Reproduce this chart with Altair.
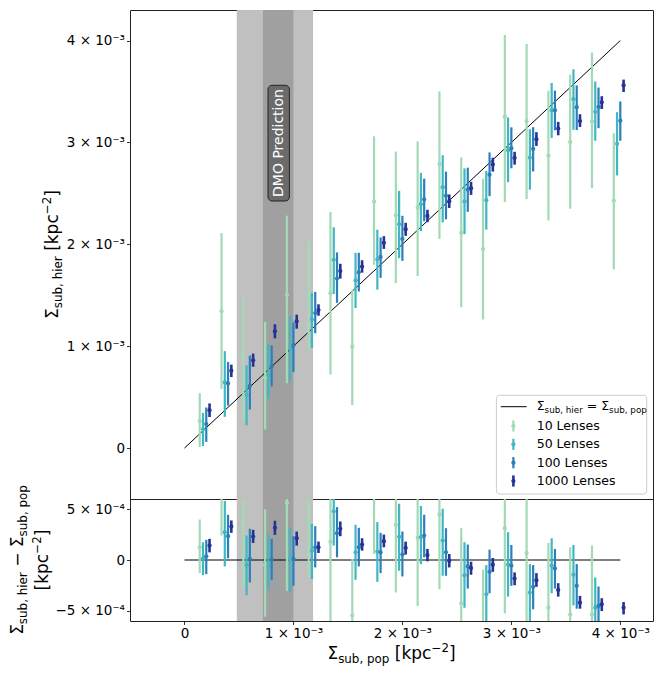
import altair as alt
import pandas as pd

# ---------------- data (units of 1e-3 kpc^-2) ----------------
sigma_pop = [0.2, 0.4, 0.6, 0.8, 1.0, 1.2, 1.4, 1.6, 1.8, 2.0,
             2.2, 2.4, 2.6, 2.8, 3.0, 3.2, 3.4, 3.6, 3.8, 4.0]
series_names = ["10 Lenses", "50 Lenses", "100 Lenses", "1000 Lenses"]
series_colors = ["#a1dab4", "#41b6c4", "#2c7fb8", "#253494"]

hier_10 = [0.265, 1.343, 0.906, 0.690, 1.504, 1.519, 1.520, 0.995, 2.420, 2.286,
           2.358, 2.788, 2.114, 1.954, 3.253, 3.209, 2.871, 3.005, 3.205, 2.428]
lo_10 = [0.011, 0.581, 0.270, 0.182, 0.636, 0.968, 0.722, 0.422, 1.799, 1.620,
         1.688, 2.053, 1.383, 1.262, 2.415, 2.444, 2.235, 2.350, 2.552, 1.754]
hi_10 = [0.539, 2.110, 1.497, 1.238, 2.281, 2.040, 2.317, 1.550, 3.060, 2.910,
         3.010, 3.500, 2.853, 2.644, 4.055, 3.967, 3.508, 3.665, 3.882, 3.091]

hier_50 = [0.186, 0.644, 0.520, 0.714, 0.973, 1.262, 1.848, 1.646, 1.853, 2.198,
           2.394, 2.561, 2.421, 2.433, 2.924, 2.850, 3.314, 3.425, 3.301, 2.987]
lo_50 = [0.021, 0.307, 0.223, 0.483, 0.656, 0.982, 1.512, 1.375, 1.555, 1.864,
         2.130, 2.215, 2.100, 2.144, 2.610, 2.536, 3.043, 3.124, 3.016, 2.676]
hi_50 = [0.345, 0.951, 0.811, 1.017, 1.293, 1.525, 2.167, 1.916, 2.143, 2.524,
         2.701, 2.875, 2.745, 2.720, 3.244, 3.130, 3.584, 3.718, 3.598, 3.297]

hier_100 = [0.236, 0.634, 0.610, 0.803, 1.010, 1.325, 1.664, 1.725, 1.876, 2.053,
            2.441, 2.476, 2.537, 2.684, 2.944, 2.936, 3.317, 3.346, 3.348, 3.213]
lo_100 = [0.061, 0.417, 0.379, 0.605, 0.746, 1.127, 1.426, 1.537, 1.671, 1.838,
          2.226, 2.245, 2.319, 2.473, 2.746, 2.715, 3.119, 3.121, 3.140, 3.016]
hi_100 = [0.398, 0.845, 0.907, 1.008, 1.234, 1.533, 1.920, 1.917, 2.067, 2.280,
          2.645, 2.713, 2.752, 2.902, 3.148, 3.150, 3.509, 3.560, 3.539, 3.402]

hier_1000 = [0.372, 0.760, 0.861, 1.146, 1.244, 1.355, 1.737, 1.782, 2.015, 2.149,
             2.279, 2.423, 2.551, 2.784, 2.848, 3.032, 3.136, 3.210, 3.394, 3.561]
lo_1000 = [0.305, 0.697, 0.798, 1.077, 1.172, 1.299, 1.664, 1.722, 1.955, 2.083,
           2.217, 2.357, 2.485, 2.714, 2.782, 2.966, 3.070, 3.151, 3.328, 3.495]
hi_1000 = [0.438, 0.819, 0.927, 1.216, 1.310, 1.411, 1.809, 1.844, 2.080, 2.211,
           2.339, 2.489, 2.613, 2.850, 2.908, 3.101, 3.202, 3.277, 3.454, 3.617]

dmo_outer = [0.48, 1.18]
dmo_inner = [0.72, 1.00]
identity_ends = [0.0, 4.0]

# ---------------- layout / style ----------------
dodge = [-0.06, -0.03, 0.0, 0.03]
FONT = "DejaVu Sans"
W_PLOT, H_TOP, H_BOT = 523, 489, 122
XDOM = [-0.0005, 0.0043]
YDOM = [-0.0005, 0.0043]
RDOM = [-0.0006, 0.0006]
bar_width = [2.2, 2.2, 2.2, 2.6]
PT = 18

centers = [hier_10, hier_50, hier_100, hier_1000]
lows = [lo_10, lo_50, lo_100, lo_1000]
highs = [hi_10, hi_50, hi_100, hi_1000]

frames = []
for i, name in enumerate(series_names):
    xp = [(s + dodge[i]) * 1e-3 for s in sigma_pop]
    y = [v * 1e-3 for v in centers[i]]
    lo = [v * 1e-3 for v in lows[i]]
    hi = [v * 1e-3 for v in highs[i]]
    frames.append(pd.DataFrame({
        "xp": xp, "y": y, "lo": lo, "hi": hi,
        "r": [a - b for a, b in zip(y, xp)],
        "rlo": [a - b for a, b in zip(lo, xp)],
        "rhi": [a - b for a, b in zip(hi, xp)],
    }))

one = pd.DataFrame({"a": [0]})
band_outer = pd.DataFrame({"x0": [dmo_outer[0] * 1e-3], "x1": [dmo_outer[1] * 1e-3]})
band_inner = pd.DataFrame({"x0": [dmo_inner[0] * 1e-3], "x1": [dmo_inner[1] * 1e-3]})
diag = pd.DataFrame({"v": [e * 1e-3 for e in identity_ends]})
zero = pd.DataFrame({"x": [e * 1e-3 for e in identity_ends], "y": [0.0, 0.0]})

# axes
AX_X_BOT = alt.Axis(values=[0, 0.001, 0.002, 0.003, 0.004], title=None,
                    labelExpr="datum.value == 0 ? '0' : format(round(datum.value*1000), 'd') + ' × 10⁻³'")
AX_Y_TOP = alt.Axis(values=[0, 0.001, 0.002, 0.003, 0.004], title=None,
                    labelExpr="datum.value == 0 ? '0' : format(round(datum.value*1000), 'd') + ' × 10⁻³'")
AX_Y_BOT = alt.Axis(values=[-0.0005, 0, 0.0005], title=None,
                    labelExpr="datum.value == 0 ? '0' : format(round(datum.value*10000), 'd') + ' × 10⁻⁴'")


def X(field, axis):
    return alt.X(field, type="quantitative", scale=alt.Scale(domain=XDOM, nice=False, zero=False), axis=axis)


def Y(field, dom, axis):
    return alt.Y(field, type="quantitative", scale=alt.Scale(domain=dom, nice=False, zero=False), axis=axis)


# ---------------- mathtext-like labels ----------------
CW = {"Σ": 0.632, "s": 0.521, "u": 0.634, "b": 0.635, ",": 0.318, " ": 0.318, "h": 0.634,
      "i": 0.278, "e": 0.615, "r": 0.411, "p": 0.635, "o": 0.612, "[": 0.39, "]": 0.39,
      "k": 0.579, "c": 0.55, "−": 0.838, "2": 0.636, "=": 0.838}


def tw(s, size):
    return sum(CW.get(c, 0.6) for c in s) * size


def math_label(pieces, x, y, size, angle=0, align="center", color="black"):
    scl = {"n": 1.0, "sub": 0.7, "sup": 0.7}
    sh = {"n": 0.0, "sub": 0.22, "sup": -0.42}
    widths = [tw(t, size * scl[k]) for t, k in pieces]
    off = -sum(widths) / 2 if align == "center" else 0.0
    out = []
    for (t, k), w in zip(pieces, widths):
        fs = size * scl[k]
        core = t.strip(" ")
        lead = len(t) - len(t.lstrip(" "))
        if core:
            out.append(alt.Chart(one).mark_text(
                text=core, align="left", baseline="alphabetic", angle=angle, font=FONT,
                fontSize=fs, dx=off + lead * tw(" ", fs), dy=0.35 * size + sh[k] * size, color=color
            ).encode(x=alt.value(x), y=alt.value(y)))
        off += w
    return out


TS = 17
hier_t = [("Σ", "n"), ("sub, hier", "sub")]
pop_t = [("Σ", "n"), ("sub, pop", "sub")]
unit_t = [(" [kpc", "n"), ("−2", "sup"), ("]", "n")]

# ---------------- top panel ----------------
top_layers = [
    alt.Chart(band_outer).mark_rect(color="#c0c0c0").encode(
        x=X("x0", None), x2="x1", y=alt.value(0), y2=alt.value(H_TOP)),
    alt.Chart(band_inner).mark_rect(color="#a0a0a0").encode(
        x=X("x0", None), x2="x1", y=alt.value(0), y2=alt.value(H_TOP)),
    alt.Chart(diag).mark_line(color="black", strokeWidth=1).encode(
        x=X("v", None), y=Y("v", YDOM, AX_Y_TOP)),
]
for i in range(4):
    top_layers.append(alt.Chart(frames[i]).mark_rule(color=series_colors[i], strokeWidth=bar_width[i]).encode(
        x=X("xp", None), y=Y("lo", YDOM, AX_Y_TOP), y2="hi"))
    top_layers.append(alt.Chart(frames[i]).mark_point(filled=True, size=PT, opacity=1, color=series_colors[i]).encode(
        x=X("xp", None), y=Y("y", YDOM, AX_Y_TOP)))

# DMO label
top_layers.append(alt.Chart(one).mark_rect(fill="#6b6b6b", stroke="#222222", strokeWidth=1, cornerRadius=4).encode(
    x=alt.value(138), x2=alt.value(159.4), y=alt.value(75.3), y2=alt.value(191)))
top_layers.append(alt.Chart(one).mark_text(text="DMO Prediction", angle=270, align="center", baseline="middle",
                                            font=FONT, fontSize=14, color="white").encode(
    x=alt.value(148.9), y=alt.value(133)))

# legend
top_layers.append(alt.Chart(one).mark_rect(fill="white", fillOpacity=0.8, stroke="#cccccc", strokeWidth=1,
                                           cornerRadius=3).encode(
    x=alt.value(366.4), x2=alt.value(516.7), y=alt.value(385.3), y2=alt.value(484)))
top_layers.append(alt.Chart(one).mark_rule(color="black", strokeWidth=1).encode(
    x=alt.value(370.7), x2=alt.value(396.7), y=alt.value(396.7)))
top_layers += math_label(hier_t + [(" = ", "n")] + pop_t, 406.7, 396.0, 12.5, align="left")
leg_rows = [416.0, 434.3, 452.7, 471.0]
for i, name in enumerate(series_names):
    yy = leg_rows[i]
    top_layers.append(alt.Chart(one).mark_rule(color=series_colors[i], strokeWidth=bar_width[i]).encode(
        x=alt.value(383.4), y=alt.value(yy - 5.6), y2=alt.value(yy + 5.6)))
    top_layers.append(alt.Chart(one).mark_point(filled=True, size=PT, opacity=1, color=series_colors[i]).encode(
        x=alt.value(383.4), y=alt.value(yy)))
    top_layers.append(alt.Chart(one).mark_text(text=name, align="left", baseline="middle", font=FONT,
                                               fontSize=12.5, color="black").encode(
        x=alt.value(406.7), y=alt.value(yy)))

# y title
top_layers += math_label(hier_t + unit_t, -77.5, H_TOP / 2, TS, angle=270)

top = alt.layer(*top_layers).properties(width=W_PLOT, height=H_TOP)

# ---------------- bottom panel ----------------
bot_layers = [
    alt.Chart(band_outer).mark_rect(color="#c0c0c0").encode(
        x=X("x0", AX_X_BOT), x2="x1", y=alt.value(0), y2=alt.value(H_BOT)),
    alt.Chart(band_inner).mark_rect(color="#a0a0a0").encode(
        x=X("x0", AX_X_BOT), x2="x1", y=alt.value(0), y2=alt.value(H_BOT)),
    alt.Chart(zero).mark_line(color="black", strokeWidth=1.2).encode(
        x=X("x", AX_X_BOT), y=Y("y", RDOM, AX_Y_BOT)),
]
for i in range(4):
    bot_layers.append(alt.Chart(frames[i]).mark_rule(color=series_colors[i], strokeWidth=bar_width[i], clip=True).encode(
        x=X("xp", AX_X_BOT), y=Y("rlo", RDOM, AX_Y_BOT), y2="rhi"))
    bot_layers.append(alt.Chart(frames[i]).mark_point(filled=True, size=PT, opacity=1, color=series_colors[i],
                                                      clip=True).encode(
        x=X("xp", AX_X_BOT), y=Y("r", RDOM, AX_Y_BOT)))

bot_layers += math_label(hier_t + [(" − ", "n")] + pop_t, -112.8, H_BOT / 2, TS, angle=270)
bot_layers += math_label([("[kpc", "n"), ("−2", "sup"), ("]", "n")], -88.3, H_BOT / 2, TS, angle=270)
bot_layers += math_label(pop_t + unit_t, W_PLOT / 2, H_BOT + 32, TS)

bottom = alt.layer(*bot_layers).properties(width=W_PLOT, height=H_BOT)

chart = alt.vconcat(top, bottom, spacing=0, bounds="flush").resolve_scale(
    x="independent", y="independent"
).properties(
    padding={"left": 0, "top": 1, "right": 0, "bottom": 0}
).configure_view(
    stroke="#222222", strokeWidth=1
).configure_axis(
    domain=False, grid=False, ticks=True, tickColor="black", tickSize=3.5, tickWidth=0.8,
    labelFont=FONT, labelFontSize=13.5, labelColor="black", labelPadding=2,
    labelOverlap=False, labelFlush=False
)

chart.save("out.html", embed_options={"renderer": "svg", "actions": False})
